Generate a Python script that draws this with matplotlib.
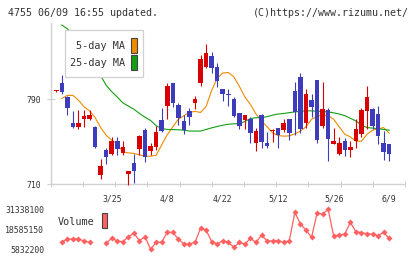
import numpy as np
import matplotlib
matplotlib.use("Agg")
import matplotlib.pyplot as plt
from matplotlib.patches import Rectangle

# daily candles, oldest first (index 0..60)
opens = [798, 805.4, 792.2, 767.7, 763.5, 771.6, 771.2, 764, 719.1, 742,
         738.8, 750.5, 739.5, 719.4, 729.8, 743.3, 760.8, 741.4, 745.1, 770.2,
         783.7, 805.4, 784.4, 769.3, 778.7, 786.5, 804.7, 819.8, 830.5, 819.8,
         799.4, 795, 790, 776.5, 770.2, 771.2, 748.9, 774.9, 749.2, 760,
         763.3, 760.8, 770.9, 797.8, 810.4, 768, 789, 807.9, 765.2, 779.6,
         748.3, 738.9, 750.5, 742, 750.5, 757.7, 779, 780.3, 775.6, 749.2, 747.7]
highs = [799, 812.6, 792.5, 779, 779.6, 780, 779.6, 764.6, 733.7, 744.2,
         754, 754, 750.5, 722.5, 738.9, 756.7, 763.3, 748.9, 764.6, 782,
         804.7, 805.4, 786.5, 775, 781.8, 792.8, 831.4, 841.8, 833.9, 823.6,
         799.4, 799.4, 792.2, 776.5, 774.9, 773.4, 763, 775.9, 759.3, 761.5,
         763.3, 771.8, 770.9, 806.3, 814.2, 799.4, 794.7, 807.9, 806.3, 781.2,
         763.3, 754.6, 753.6, 750.5, 770.9, 781.2, 802.2, 781.2, 783.1, 760.2, 748.3]
lows = [797, 794.7, 775, 763, 761.5, 763.5, 770, 744.2, 714.9, 728.7,
        737.9, 737.3, 737.3, 709.5, 711, 737.3, 731, 737.3, 742, 759.3,
        771.2, 782.8, 765.5, 757.6, 765.5, 780.6, 802.5, 818.9, 814.8, 801.6,
        788.4, 783.7, 773.4, 762.4, 762.4, 748.9, 741.4, 744.5, 744.5, 749.8,
        744.2, 759.3, 751.8, 756.1, 758.6, 763.3, 773.4, 748.9, 762.7, 732,
        747.7, 737.9, 736.3, 735.7, 744.5, 754.6, 762.4, 762.4, 748.3, 733.2, 732]
closes = [798.5, 796.9, 781.8, 764, 767.5, 773.7, 775, 745.1, 727.3, 735.7,
          750.5, 743, 745.1, 722.2, 722.6, 755.2, 735.7, 745.8, 759, 760.5,
          802.2, 786.5, 772.4, 761.4, 773.4, 790, 827.6, 833, 818.9, 807.3,
          794.4, 793.8, 774.3, 764.9, 774.9, 758.3, 759.9, 749.8, 746.1, 761,
          756.1, 767.7, 758.6, 777.5, 762.4, 794.7, 782.8, 751.4, 780.3, 752.4,
          750.2, 749.2, 742, 745.1, 762.4, 779.6, 791.6, 765.2, 755.8, 740.4, 738.9]

nan = np.nan
ma5 = [nan, 790.6, 793.5, 793.5, 789, 782.8, 779, 772.7, 763.3, 756,
       751.4, 748, 740.4, 739.5, 739, 737.6, 736.4, 736.4, 737.3, 747,
       756.5, 764, 771, 774.5, 777.5, 778.5, 777.5, 783, 798, 809.5,
       814.5, 815, 811, 802, 792, 785, 776, 769.5, 764, 758.3,
       755.8, 755.2, 755.5, 757.3, 760, 764, 771, 773.8, 775, 774.5,
       771, 764, 757, 754.5, 750.5, 750.5, 757, 760.8, 762, 763.3, 758]
ma25 = [nan, 859.6, 856, 851, 846, 840, 833, 823, 812, 803,
        797, 792, 786.5, 783.5, 780.5, 776.5, 773, 770, 765, 762.5,
        761.5, 761.4, 761.2, 760.8, 760, 760, 760, 761.5, 763, 764.3,
        765.5, 766.4, 766.8, 767, 769, 771.8, 772.5, 772.7, 773.5, 775,
        776, 776.5, 777.3, 778, 778.5, 779, 779, 778.7, 778.3, 778,
        777.1, 776, 774.5, 772, 769.5, 765.5, 763.3, 762.8, 762.2, 761.5, 760.8]

volume = [nan, 10.28e6, 12.40e6, 12.40e6, 12.40e6, 11.12e6, 10.28e6, nan, nan, 9.85e6,
          12.83e6, 11.12e6, 10.70e6, 13.89e6, 16.01e6, 11.34e6, 13.89e6, 5.8322e6, 10.28e6, 10.28e6,
          16.65e6, 16.65e6, 12.40e6, 9.21e6, 9.21e6, 10.28e6, 19.2e6, 18.14e6, 10.70e6, 9.21e6,
          11.34e6, 10.28e6, 7.09e6, 10.28e6, 9.21e6, 12.83e6, 10.28e6, 14.95e6, 11.12e6, 11.12e6,
          11.34e6, 10.28e6, 11.34e6, 29.4e6, 21.97e6, 18.14e6, 13.46e6, 28.77e6, 28.34e6, 31.3381e6,
          14.31e6, 14.95e6, 15.59e6, 23.03e6, 17.08e6, 16.44e6, 15.81e6, 15.38e6, 14.52e6, 16.65e6, 12.83e6]

date_pos = [10, 20, 30, 40, 50, 60]
date_labels = ["3/25", "4/8", "4/22", "5/12", "5/26", "6/9"]
price_ticks = [710, 790]
vol_ticks = [5832200, 18585150, 31338100]

RED, BLUE = "#D80000", "#3C3CBC"
ORANGE, GREEN = "#F08A00", "#10A010"
VOLC = "#FF6060"
GRAY, TXT = "#D0D0D0", "#333333"
MONO = "DejaVu Sans Mono"
W, H = 420, 259


def fx(x):
    return x / W


def fy(y):
    return 1 - y / H


fig = plt.figure(figsize=(W / 100, H / 100), dpi=100)
ax = fig.add_axes([fx(50.7), fy(184.3), fx(405) - fx(50.7), fy(23) - fy(184.3)])
vax = fig.add_axes([fx(50.7), fy(249.3), fx(405) - fx(50.7), fy(209.3) - fy(249.3)])

idx = np.arange(len(closes))
o, h, l, c = map(np.array, (opens, highs, lows, closes))
cols = [RED if cc >= oo else BLUE for oo, cc in zip(o, c)]
ax.vlines(idx, l, h, colors=cols, lw=0.8, zorder=3, clip_on=False)
body = np.maximum(np.abs(c - o), 0.9)
ax.bar(idx, body, bottom=np.minimum(o, c), width=0.82, color=cols, lw=0, zorder=4, clip_on=False)
ax.plot(idx, ma5, color=ORANGE, lw=0.8, zorder=2)
ax.plot(idx, ma25, color=GREEN, lw=0.8, zorder=2)

ax.set_xlim(-1, 62.85)
ax.set_ylim(710, 861.5)
for s in ["top", "right"]:
    ax.spines[s].set_visible(False)
for s in ["left", "bottom"]:
    ax.spines[s].set_color(GRAY)
    ax.spines[s].set_linewidth(1.0)
ax.set_yticks(price_ticks)
ax.set_yticklabels([str(t) for t in price_ticks])
ax.tick_params(axis="y", direction="inout", length=5.8, width=0.8, color=GRAY,
               labelsize=5.9, labelcolor=TXT, pad=4)
ax.set_xticks(np.linspace(-1, 62.85, 12))
ax.set_xticklabels([])
ax.set_xticks(date_pos, minor=True)
ax.set_xticklabels(date_labels, minor=True)
ax.tick_params(axis="x", which="major", direction="inout", length=4.8, width=0.8, color=GRAY)
ax.tick_params(axis="x", which="minor", length=0, labelsize=5.9, labelcolor=TXT, pad=7.5)
for t in ax.get_xticklabels(minor=True) + ax.get_yticklabels():
    t.set_family(MONO)

vax.plot(idx, volume, color=VOLC, lw=0.9, marker="D", ms=3.1, mew=0, clip_on=False)
vax.set_xlim(-1, 62.85)
vax.set_ylim(vol_ticks[0], vol_ticks[-1])
vax.set_xticks([])
vax.set_yticks(vol_ticks)
vax.set_yticklabels([str(t) for t in vol_ticks], family=MONO)
vax.tick_params(axis="y", length=0, labelsize=5.9, labelcolor=TXT, pad=4.8)
for s in vax.spines.values():
    s.set_visible(False)
vax.patch.set_alpha(0)

# MA legend box
ax.add_patch(Rectangle((fx(65), fy(77.3)), fx(78.3), fy(30) - fy(77.3), transform=fig.transFigure,
                       facecolor="white", edgecolor=GRAY, lw=0.9, zorder=10, clip_on=False))
fig.text(fx(125), fy(45.7), "5-day MA", ha="right", va="center", family=MONO, fontsize=7.3,
         color=TXT, zorder=11)
fig.text(fx(125), fy(63.3), "25-day MA", ha="right", va="center", family=MONO, fontsize=7.3,
         color=TXT, zorder=11)
for y0, col in [(37.5, ORANGE), (54.5, GREEN)]:
    ax.add_patch(Rectangle((fx(131), fy(y0 + 15.5)), fx(6), fy(y0) - fy(y0 + 15.5),
                           transform=fig.transFigure, facecolor=col, edgecolor="#444444",
                           lw=0.8, zorder=11, clip_on=False))

# volume legend
fig.text(fx(58), fy(222.3), "Volume", ha="left", va="center", family=MONO, fontsize=7.3, color=TXT)
vax.add_patch(Rectangle((fx(101.7), fy(228.3)), fx(5.6), fy(213.3) - fy(228.3),
                        transform=fig.transFigure, facecolor=VOLC, edgecolor="#444444",
                        lw=0.8, zorder=11, clip_on=False))

fig.text(fx(8), fy(12.5), "4755 06/09 16:55 updated.", ha="left", va="center", family=MONO,
         fontsize=7.2, color=TXT)
fig.text(fx(408.5), fy(12.5), "(C)https://www.rizumu.net/", ha="right", va="center", family=MONO,
         fontsize=7.2, color=TXT)

fig.savefig("out.png", dpi=100)
